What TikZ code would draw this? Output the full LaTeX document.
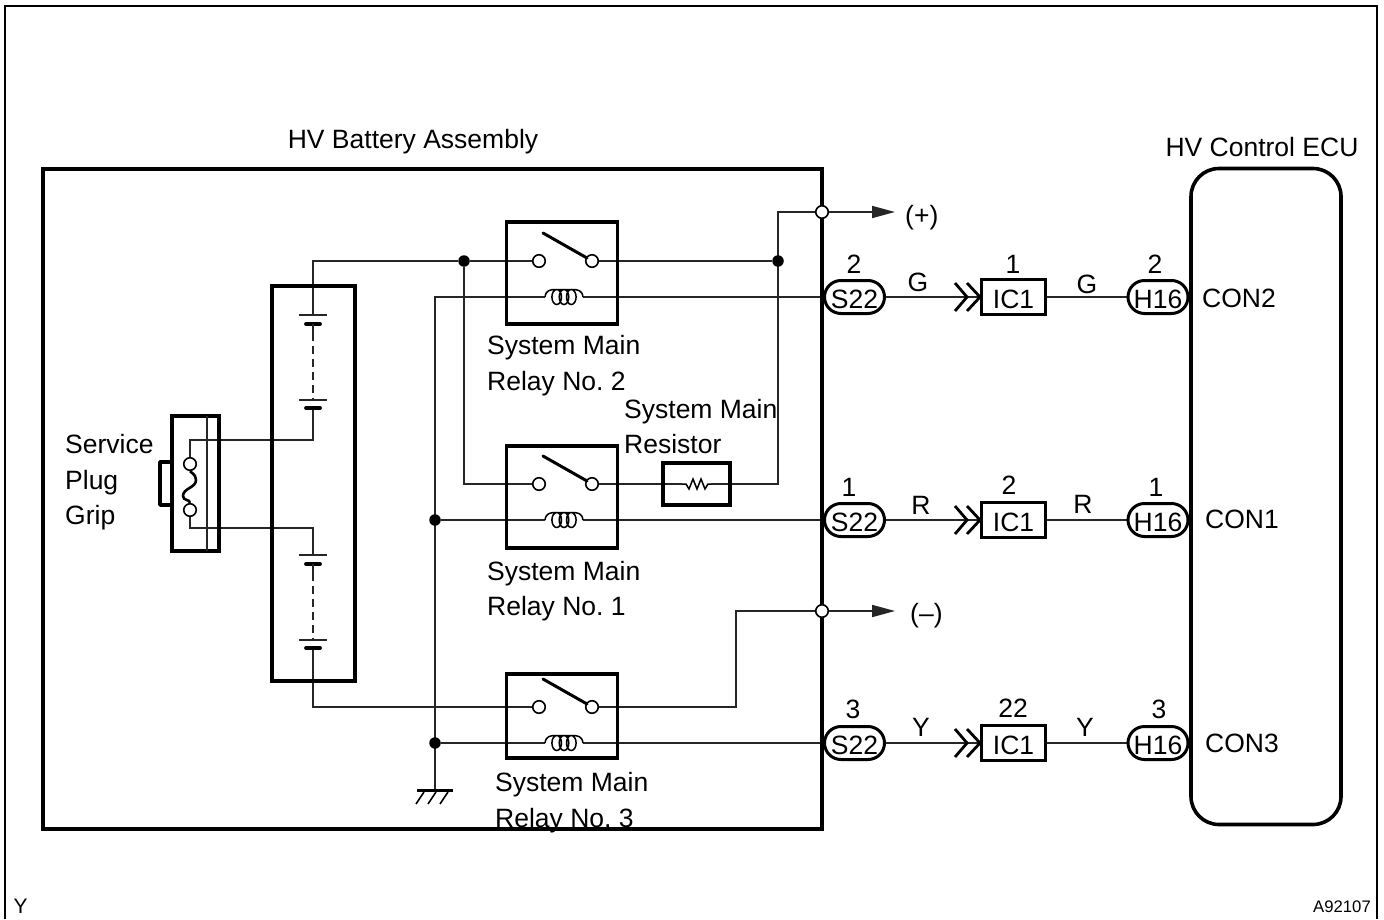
\documentclass[tikz,border=0pt]{standalone}
\usepackage{fontspec}
\setmainfont{Liberation Sans}
\frenchspacing
\usetikzlibrary{backgrounds,arrows.meta,shapes.misc}
\tikzset{
  x=1pt,y=-1pt,
  wire/.style={line width=1.7pt,black!85,line join=miter},
  heavy/.style={line width=3.6pt,line join=round},
  txt/.style={inner sep=0pt,anchor=base west,font=\fontsize{26.5}{30}\selectfont},
  txtc/.style={txt,anchor=base},
  tiny/.style={inner sep=0pt,font=\fontsize{16.7}{20}\selectfont},
  relaybox/.style={draw,line width=3.6pt,minimum width=111pt,inner sep=0pt},
  contact/.style={circle,draw,fill=white,line width=1.6pt,minimum size=12.5pt,inner sep=0pt},
  dotj/.style={circle,fill=black,minimum size=11.5pt,inner sep=0pt},
  pill/.style={rounded rectangle,draw,line width=3pt,minimum width=60pt,minimum height=33pt,inner sep=0pt,
     text height=22pt,text depth=0pt,font=\fontsize{26.5}{30}\selectfont},
  icbox/.style={draw,line width=3.2pt,minimum width=64pt,minimum height=35pt,inner sep=0pt,
     text height=22pt,text depth=0pt,font=\fontsize{26.5}{30}\selectfont},
  arrowwire/.style={wire,-{Triangle[length=23pt,width=12pt]}},
  plate/.style={line width=1.8pt,black!85},
  shortplate/.style={line width=3.8pt,line cap=round},
  relayarm/.pic={\draw[line width=3pt,line cap=round] (-24,-28)--(20,-3);},
  coilsym/.pic={
    \draw[line width=1.5pt] (-19,0) .. controls (-18,-7) and (-14,-7.5) .. (-7.3,-7.5)
      (7.3,-7.5) .. controls (14,-7.5) and (18,-7) .. (19,0)
      (-7.3,-7.5)--(7.3,-7.5)
      (-7.3,0) ellipse [x radius=4.8pt,y radius=7.5pt]
      (0,0) ellipse [x radius=4.8pt,y radius=7.5pt]
      (7.3,0) ellipse [x radius=4.8pt,y radius=7.5pt];},
  chevrons/.pic={\draw[line width=2.8pt] (-25,-14)--(-13,0)--(-25,14) (-13,-14)--(0,0)--(-13,14);},
  groundsym/.pic={
    \draw[line width=3pt] (-18,0)--(18,0);
    \draw[line width=1.6pt] (-11,2)--(-19,14) (1,2)--(-7,14) (13,2)--(5,14);},
  cellpair/.pic={
    \draw[plate] (-14,0)--(14,0);
    \draw[shortplate] (-7,9)--(7,9);
    \draw[wire] (0,9)--(0,18);
    \draw[wire,dash pattern=on 8pt off 5pt] (0,18)--(0,85);
    \draw[plate] (-14,85)--(14,85);
    \draw[shortplate] (-7,93)--(7,93);},
}
\begin{document}
\begin{tikzpicture}
\useasboundingbox (0,0) rectangle (1384,919);
% frame
\coordinate (fbl) at (5,919); \coordinate (ftl) at (5,6);
\coordinate (ftr) at (1377,6); \coordinate (fbr) at (1377,919);
\draw[line width=2.6pt,line join=miter] (fbl)--(ftl)--(ftr)--(fbr);
% containers
\node[draw,line width=3.8pt,minimum width=779pt,minimum height=660pt,inner sep=0pt] (batt) at (432.5,499) {};
\node[draw,line width=3.8pt,minimum width=83pt,minimum height=395pt,inner sep=0pt] (pack) at (313.5,483.5) {};
\node[draw,line width=3.6pt,rounded corners=28pt,minimum width=150pt,minimum height=656pt,inner sep=0pt] (ecu) at (1266,496.5) {};
% service plug
\draw[heavy] (172,462)--(160,462)--(160,505)--(172,505);
\node[draw,line width=3.4pt,minimum width=47pt,minimum height=135pt,inner sep=0pt] (plug) at (195.5,483.5) {};
\coordinate (pt) at (207,416); \coordinate (pb) at (207,551);
\draw[wire,line width=1.4pt] (pt)--(pb);
\node[contact] (f1) at (190,464) {};
\node[contact] (f2) at (190,510) {};
\draw[line width=2.6pt] (f1.south) .. controls (190,472) and (196,474) .. (196,480)
   .. controls (196,488) and (183,488) .. (183,496) .. controls (183,501) and (190,499) .. (f2.north);
% relays
\node[relaybox,minimum height=102pt] (r2) at (562,273) {};
\node[relaybox,minimum height=102pt] (r1) at (562,497) {};
\node[relaybox,minimum height=84pt] (r3) at (562,716) {};
\node[contact] (r2a) at (539,261) {}; \node[contact] (r2b) at (592,261) {};
\node[contact] (r1a) at (539,484) {}; \node[contact] (r1b) at (592,484) {};
\node[contact] (r3a) at (539,707) {}; \node[contact] (r3b) at (592,707) {};
\pic at (567,261) {relayarm}; \pic at (567,484) {relayarm}; \pic at (567,707) {relayarm};
\coordinate (c2l) at (545,297); \coordinate (c2r) at (583,297);
\coordinate (c1l) at (545,520); \coordinate (c1r) at (583,520);
\coordinate (c3l) at (545,743); \coordinate (c3r) at (583,743);
\pic at (564,297) {coilsym}; \pic at (564,520) {coilsym}; \pic at (564,743) {coilsym};
% resistor
\node[draw,line width=3.2pt,minimum width=67pt,minimum height=42pt,inner sep=0pt] (res) at (696.5,484) {};
\coordinate (zl) at (682,484); \coordinate (zr) at (711,484);
\draw[line width=1.5pt] (zl)--(686,484)--(689,489)--(693,479)--(697,489)--(701,479)--(705,489)--(708,484)--(zr);
% junctions
\node[dotj] (j1) at (464,261) {};
\node[dotj] (j2) at (778,261) {};
\node[dotj] (j3) at (435,520) {};
\node[dotj] (j4) at (435,743) {};
\node[contact] (oplus) at (822,212) {};
\node[contact] (ominus) at (822,611) {};
% connectors row nodes
\node[pill] (s2) at (854.5,297) {S22};
\node[pill] (s1) at (854.5,520) {S22};
\node[pill] (s3) at (854.5,743) {S22};
\node[icbox] (i2) at (1013.5,297) {IC1};
\node[icbox] (i1) at (1013.5,520) {IC1};
\node[icbox] (i3) at (1013.5,743) {IC1};
\node[pill] (h2) at (1158,297) {H16};
\node[pill] (h1) at (1158,520) {H16};
\node[pill] (h3) at (1158,743) {H16};
\pic at (980,297) {chevrons}; \pic at (980,520) {chevrons}; \pic at (980,743) {chevrons};
% ground
\coordinate (gnd) at (435,790);
\pic at (gnd) {groundsym};
% batteries
\coordinate (b1) at (313,315); \coordinate (b1e) at (313,408);
\coordinate (b2) at (313,555); \coordinate (b2e) at (313,648);
\pic at (b1) {cellpair}; \pic at (b2) {cellpair};
% free ends
\coordinate (plusend) at (895,212); \coordinate (minusend) at (895,611);
\begin{scope}[on background layer]
\fill[white] (0,0) rectangle (1384,919);
\draw[wire] (b1) -- (313,261) -- (j1);
\draw[wire] (j1) -- (r2a);
\draw[wire] (r2b) -- (j2);
\draw[wire] (j1) |- (r1a);
\draw[wire] (r1b) -- (res);
\draw[wire] (res) -- (778,484) -- (778,212) -- (oplus);
\draw[wire] (f1) -- (190,440) -- (313,440) -- (b1e);
\draw[wire] (f2) -- (190,528) -- (313,528) -- (b2);
\draw[wire] (b2e) -- (313,707) -- (r3a);
\draw[wire] (r3b) -- (736,707) -- (736,611) -- (ominus);
\draw[wire] (c2l) -- (435,297) -- (gnd);
\draw[wire] (j3) -- (c1l);
\draw[wire] (j4) -- (c3l);
\draw[wire] (c2r) -- (s2);
\draw[wire] (c1r) -- (s1);
\draw[wire] (c3r) -- (s3);
\draw[wire] (zl) -- (res.west);
\draw[wire] (zr) -- (res.east);
\foreach \a/\b in {s2/i2,s1/i1,s3/i3,i2/h2,i1/h1,i3/h3}{\draw[wire] (\a)--(\b);}
\end{scope}
\draw[arrowwire] (oplus) -- (plusend);
\draw[arrowwire] (ominus) -- (minusend);
% texts
\node[txtc] (t1) at (413,148) {HV Battery Assembly};
\node[txtc] (t2) at (1262,156) {HV Control ECU};
\node[txt] (t3) at (905,224) {(+)};
\node[txt] (t4) at (910,622) {(–)};
\node[txt] (t5) at (65,453) {Service};
\node[txt] (t6) at (65,489) {Plug};
\node[txt] (t7) at (65,524) {Grip};
\node[txt] (t8) at (487,354) {System Main};
\node[txt] (t9) at (487,390) {Relay No. 2};
\node[txt] (t10) at (624,418) {System Main};
\node[txt] (t11) at (624,453) {Resistor};
\node[txt] (t12) at (487,580) {System Main};
\node[txt] (t13) at (487,615) {Relay No. 1};
\node[txt] (t14) at (495,791) {System Main};
\node[txt] (t15) at (495,827) {Relay No. 3};
\foreach \n/\x/\y/\s in {a1/854/273/2,a2/918/291/G,a3/1013/273/1,a4/1087/293/G,a5/1155/273/2,
  b1t/849/496/1,b2t/921/514/R,b3t/1009/494/2,b4t/1083/513/R,b5t/1156/496/1,
  c1t/853/718/3,c2t/921/736/Y,c3t/1013/717/22,c4t/1085/736/Y,c5t/1159/718/3}{
  \node[txtc] (\n) at (\x,\y) {\s};}
\node[txt] (k2) at (1202,307) {CON2};
\node[txt] (k1) at (1205,528) {CON1};
\node[txt] (k3) at (1205,752) {CON3};
\node[inner sep=0pt,font=\fontsize{21}{24}\selectfont,anchor=base west] (yy) at (13.5,913) {Y};
\node[tiny,anchor=base east] (code) at (1371,912) {A92107};
\end{tikzpicture}
\end{document}
